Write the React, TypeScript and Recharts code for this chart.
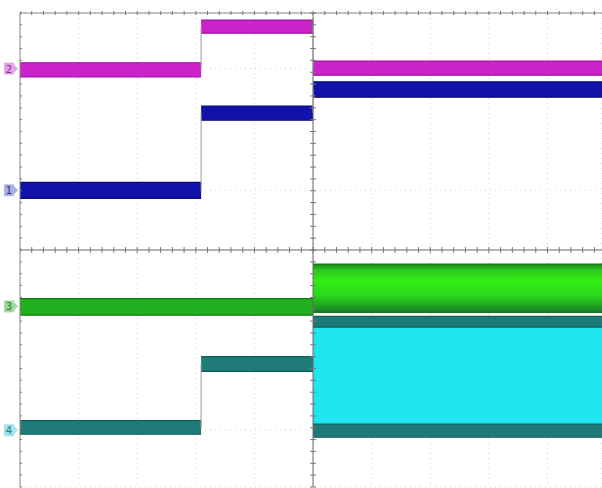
import React from "react";
import { ComposedChart, Area, Line, Scatter, XAxis, YAxis, CartesianGrid, ReferenceLine } from "recharts";

// scope screen: 10 divisions across, 8 divisions high (only ~9.93 visible)
const divX = [0, 1, 2, 3, 4, 5, 6, 7, 8, 9, 10];
const divY = [0, 1, 2, 3, 4, 5, 6, 7, 8];

// channel ground markers (div units)
const markerLevels = [7.06, 5.01, 3.05, 0.96];
const markerNames = ["2", "1", "3", "4"];
const markerColors = ["#e4a0e4", "#a8aee4", "#9cd89c", "#9ce4e8"];
const markerText = ["#8a2a8a", "#2a2a8a", "#2a7a2a", "#2a7a7a"];

// trace bands: from/to in divisions, lo/hi in divisions
const ch2Bands = [
  { from: 0, to: 3.09, lo: 6.92, hi: 7.16 },
  { from: 3.09, to: 5.0, lo: 7.66, hi: 7.88 },
  { from: 5.0, to: 10, lo: 6.95, hi: 7.19 },
];
const ch1Bands = [
  { from: 0, to: 3.09, lo: 4.87, hi: 5.14 },
  { from: 3.09, to: 5.0, lo: 6.19, hi: 6.43 },
  { from: 5.0, to: 10, lo: 6.58, hi: 6.84 },
];
const ch3Bands = [
  { from: 0, to: 5.0, lo: 2.9, hi: 3.18 },
];
const ch3Envelope = [
  { from: 5.0, to: 10, lo: 2.95, hi: 3.76 },
];
const ch4Bands = [
  { from: 0, to: 3.09, lo: 0.89, hi: 1.12 },
  { from: 3.09, to: 5.0, lo: 1.95, hi: 2.2 },
];
const ch4EnvEdges = [
  { from: 5.0, to: 10, lo: 2.7, hi: 2.88 },
  { from: 5.0, to: 10, lo: 0.84, hi: 1.06 },
];
const ch4EnvFill = [
  { from: 5.0, to: 10, lo: 1.04, hi: 2.72 },
];

// step edges between levels
const steps = [
  { x: 3.09, a: 7.04, b: 7.77 },
  { x: 3.09, a: 5.0, b: 6.31 },
  { x: 3.09, a: 1.0, b: 2.08 },
  { x: 5.0, a: 7.77, b: 7.07 },
  { x: 5.0, a: 6.31, b: 6.71 },
];

const minor = Array.from({ length: 51 }, (_, i) => i * 0.2);
const minorY = Array.from({ length: 41 }, (_, i) => i * 0.2);

const segData = (s: { from: number; to: number; lo: number; hi: number }) => [
  { x: s.from, r: [s.lo, s.hi] },
  { x: s.to, r: [s.lo, s.hi] },
];

const band = (list: any[], key: string, fill: string, stroke: string, sw = 1.2) =>
  list.map((s, i) => (
    <Area
      key={key + i}
      data={segData(s)}
      dataKey="r"
      type="linear"
      fill={fill}
      fillOpacity={1}
      stroke={stroke}
      strokeWidth={sw}
      dot={false}
      activeDot={false}
      isAnimationActive={false}
    />
  ));

const MarkerTick = (props: any) => {
  const { y, index } = props;
  const c = markerColors[index] ?? "#ccc";
  return (
    <g>
      <rect x={4} y={y - 6} width={10} height={12} fill={c} stroke="#e6e6e6" strokeWidth={0.5} />
      <path d={`M14 ${y - 4} L18 ${y} L14 ${y + 4} Z`} fill={c} />
      <text x={9} y={y + 4} textAnchor="middle" fontSize={10} fontFamily="DejaVu Sans" fill={markerText[index]}>
        {markerNames[index]}
      </text>
    </g>
  );
};

const vTick = (h: number) => (p: any) => (
  <line x1={p.cx} x2={p.cx} y1={p.cy - h} y2={p.cy + h} stroke="#777" strokeWidth={1} />
);
const hTick = (w: number) => (p: any) => (
  <line x1={p.cx - w} x2={p.cx + w} y1={p.cy} y2={p.cy} stroke="#777" strokeWidth={1} />
);

export default function App() {
  return (
    <div style={{ position: "absolute", left: 0, top: 0, background: "#fff" }}>
      <ComposedChart width={602} height={488} margin={{ top: 13, right: 0, bottom: 1, left: 0 }}>
        <defs>
          <linearGradient id="greenEnv" x1="0" y1="0" x2="0" y2="1">
            <stop offset="0%" stopColor="#1b8a1b" />
            <stop offset="14%" stopColor="#2ccc1e" />
            <stop offset="35%" stopColor="#33ee14" />
            <stop offset="65%" stopColor="#2ad81a" />
            <stop offset="88%" stopColor="#1f9f22" />
            <stop offset="100%" stopColor="#1a7a3a" />
          </linearGradient>
        </defs>
        <CartesianGrid stroke="#cfcfcf" strokeDasharray="1 4" />
        <XAxis dataKey="x" type="number" domain={[0, 9.93]} ticks={divX} allowDataOverflow hide />
        <YAxis
          type="number"
          domain={[0, 8]}
          ticks={markerLevels}
          width={20}
          axisLine={false}
          tickLine={false}
          tickSize={0}
          tickMargin={0}
          tick={<MarkerTick />}
          interval={0}
        />
        <YAxis yAxisId="grid" type="number" domain={[0, 8]} ticks={divY} hide />

        {/* graticule frame and crosshair */}
        <ReferenceLine x={0} stroke="#888" />
        <ReferenceLine y={8} stroke="#888" />
        <ReferenceLine x={5} stroke="#666" />
        <ReferenceLine y={4} stroke="#666" />

        {steps.map((s, i) => (
          <Line
            key={"st" + i}
            data={[{ x: s.x, v: s.a }, { x: s.x, v: s.b }]}
            dataKey="v"
            stroke="#999"
            strokeWidth={1}
            dot={false}
            activeDot={false}
            isAnimationActive={false}
          />
        ))}

        {band(ch2Bands, "m", "#cc22cc", "#a0129f")}
        {band(ch1Bands, "b", "#1212aa", "#0a0a7a")}
        {band(ch3Bands, "g", "#22b022", "#137a13")}
        {band(ch3Envelope, "ge", "url(#greenEnv)", "#177a17", 1.5)}
        {band(ch4Bands, "t", "#1f7c7a", "#145c5a")}
        {band(ch4EnvFill, "cf", "#1fe6ee", "#1fe6ee", 0)}
        {band(ch4EnvEdges, "te", "#1e7a78", "#145c5a")}

        <Scatter data={minor.map((x) => ({ x, y: 4 }))} dataKey="y" shape={vTick(3)} isAnimationActive={false} />
        <Scatter data={minor.map((x) => ({ x, y: 8 }))} dataKey="y" shape={vTick(2)} isAnimationActive={false} />
        <Scatter data={minorY.map((y) => ({ x: 5, y }))} dataKey="y" shape={hTick(3)} isAnimationActive={false} />
        <Scatter data={minorY.map((y) => ({ x: 0, y }))} dataKey="y" shape={hTick(2)} isAnimationActive={false} />
      </ComposedChart>
    </div>
  );
}
